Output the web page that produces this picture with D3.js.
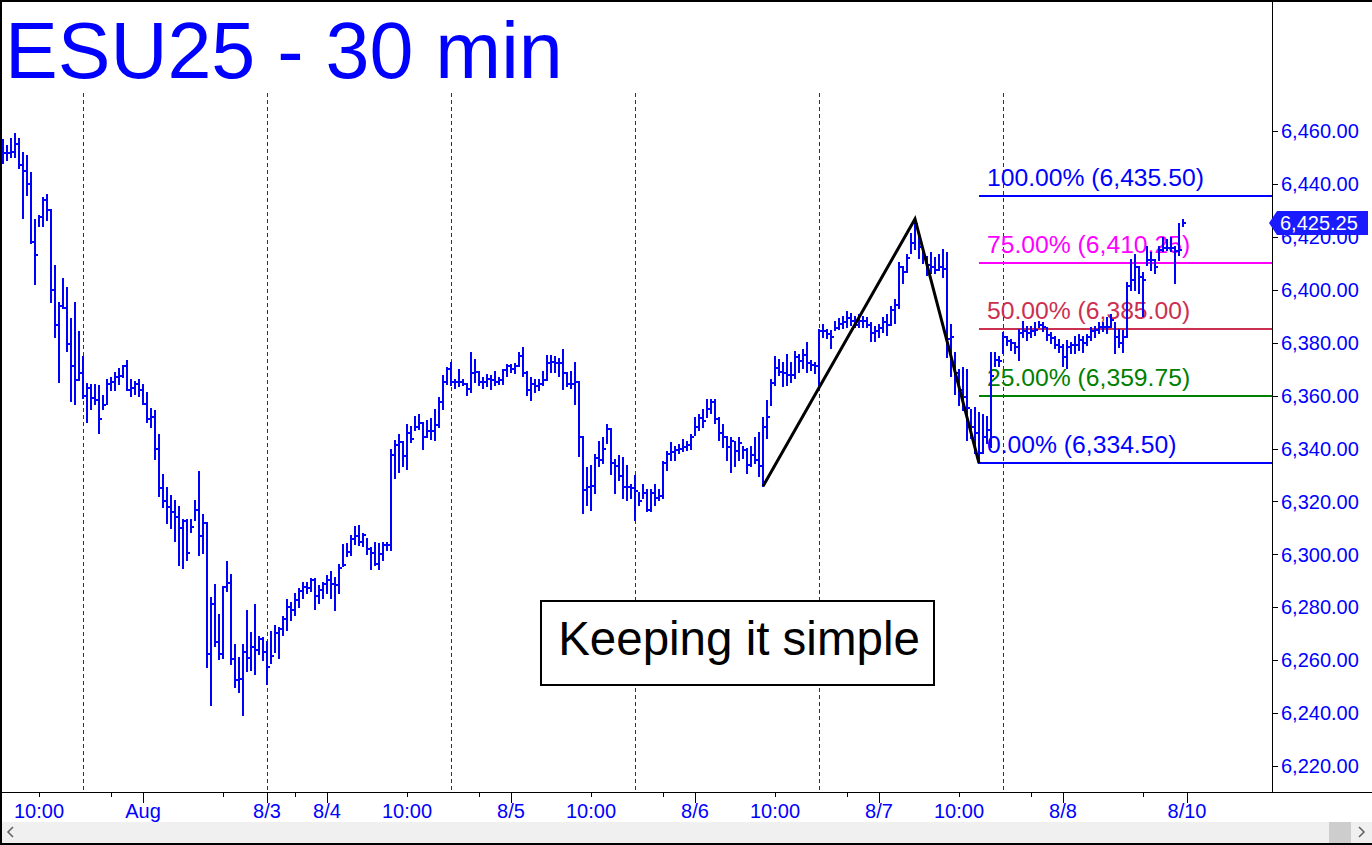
<html>
<head>
<style>
  body { margin: 0; background: #fff; }
  svg text { font-family: "Liberation Sans", Arial, sans-serif; }
  .title { fill: #0000ff; font-size: 79px; }
  .ylab { fill: #0000ff; font-size: 20px; }
  .xlab { fill: #0000ff; font-size: 20px; }
  .fib { font-size: 24.7px; }
  .note { fill: #000; font-size: 47.5px; }
</style>
<script src="https://d3js.org/d3.v7.min.js"></script>
</head>
<body>
<svg width="1372" height="845"></svg>
<script>
// 30 min bars (bar index 0..295)
const highs = [
  6456.5,6454.5,6457,6459,6457,6451.5,6450.5,6444,6426.5,6428,
  6434.5,6436,6430,6409,6395,6404,6400.5,6389,6395,6384,
  6374.5,6364.5,6364,6364,6363.5,6360,6366,6366.5,6368.5,6370,
  6371,6373,6366,6365,6366,6364,6361,6355,6354,6345,
  6330,6325,6322,6320,6318,6313,6313,6313,6320,6331.25,
  6315,6311.75,6283.5,6288.5,6277,6287.75,6297.25,6292.25,6265.75,6261,
  6265.75,6278.5,6270.25,6281,6268.75,6268.25,6267,6270.5,6272.75,6272,
  6276.25,6282.75,6281.75,6285,6286.75,6289.25,6289,6290.5,6290.5,6288,
  6289,6291.75,6293.5,6291,6296,6303.5,6304,6306.75,6310.5,6310.75,
  6307.75,6305.75,6302.25,6304.25,6304,6304.25,6304.25,6339.5,6343,6345,
  6342.5,6349,6348.25,6352,6352.75,6349.75,6350.25,6351,6354.5,6359,
  6367.25,6370.25,6372.25,6366,6369.75,6366,6364.5,6376.25,6373.5,6369,
  6366.5,6367.75,6367.25,6369,6366.5,6369.75,6371.5,6371.5,6372,6376,
  6378,6369,6366.5,6366,6366,6369,6375,6375,6374.75,6373.75,
  6377.25,6368.5,6369,6372.25,6365.25,6344.5,6332.5,6333.25,6337.5,6342.5,
  6344,6349,6347.5,6335.75,6337,6336.25,6333.25,6326.25,6329.5,6323,
  6326.25,6324.25,6324.25,6326.25,6324.25,6335,6338.75,6342,6340.75,6341.25,
  6343.25,6342.5,6345,6351.5,6352.75,6354.5,6358.5,6358.5,6358.5,6351.5,
  6349,6344.5,6344,6342.5,6344,6340.75,6340,6340.75,6344,6345.75,
  6351.5,6358,6366,6374.75,6373.5,6372.25,6375.5,6372.25,6376.5,6375.5,
  6377.25,6379.75,6373,6372.25,6384.75,6386.75,6384.75,6384.25,6388,6389,
  6389.75,6391.75,6391,6389.75,6390.5,6389.75,6389.25,6387.5,6386,6386.75,
  6389.25,6390.5,6393.5,6396,6410,6408.75,6413,6421.25,6426.75,6420,
  6415,6412.5,6413.75,6412,6413,6415,6413.75,6386.75,6376,6369.75,
  6370.25,6369.75,6354.5,6355.25,6353.25,6352.75,6352,6376,6376,6374.75,
  6383.5,6382.25,6381,6379.75,6384.75,6388,6386,6386,6387.25,6388,
  6387.25,6385.5,6383.5,6382.25,6381,6379.25,6380.5,6379.75,6382.25,6383,
  6382.25,6383,6385.5,6386,6387.25,6387.25,6389.25,6390.5,6387.25,6384.75,
  6384.25,6402.5,6411.25,6413.25,6408.75,6406.25,6416.25,6413.75,6411.25,6416.25,
  6419.5,6418.75,6419.5,6416.25,6425,6426.5
];
const lows = [
  6448,6449,6450,6450,6446,6427,6436,6417.5,6402,6424,
  6424,6426.5,6395.5,6382,6365,6393,6377,6358,6357,6366,
  6359,6350,6355,6357,6346,6355,6357,6362,6362,6364.5,
  6367,6362,6360,6360.5,6360,6357,6350,6348,6336,6322,
  6318,6312,6310,6305,6296,6294.75,6298,6308.5,6313,6299.75,
  6300.5,6257.5,6243,6265.25,6260.5,6260.75,6286,6258.5,6250,6248,
  6239.25,6255.75,6256.25,6254.75,6262.5,6260,6251,6258.75,6263,6260.75,
  6269.5,6271.25,6275,6277,6280.25,6283.5,6285.25,6286.25,6279.5,6281.75,
  6283.5,6285.25,6283.5,6279,6285.5,6295.5,6299.5,6299.75,6304,6303.5,
  6303,6300.25,6294.5,6296,6294.5,6298,6301.5,6301.5,6329,6331.25,
  6333.25,6332.25,6342.5,6347,6347.25,6339.75,6344.25,6343.5,6343.25,6348.25,
  6354.75,6364.5,6364,6362.75,6363.5,6364,6360.25,6361.5,6365.25,6364,
  6363,6363.5,6362.5,6364,6364.5,6364.5,6367.25,6368.75,6368.5,6371,
  6367.25,6360.25,6358.25,6361.5,6362,6364,6366,6369,6369,6367.25,
  6362.5,6363.5,6362.75,6357,6337,6315.5,6318.75,6316.75,6323,6333.25,
  6334.5,6342,6330.5,6323,6328,6321.25,6320.5,6321.25,6313,6318.75,
  6321.25,6316.25,6316.25,6318.75,6320.5,6321.25,6332,6335.75,6335.75,6338.25,
  6339,6339.5,6340,6345,6347,6348.25,6352,6353.25,6349.5,6343.25,
  6340.75,6335.75,6331.25,6333.25,6335.75,6336.25,6330.75,6333.25,6334.5,6329.5,
  6325.75,6344,6356.5,6364,6367.75,6363.5,6364,6365.25,6366.5,6369,
  6370.25,6369,6369.75,6368.5,6364,6382.25,6381.75,6378,6384.75,6385,
  6385.5,6386,6386.75,6386,6386,6386,6386,6380.5,6380.5,6382.25,
  6384,6383,6386.75,6387.25,6393,6402.5,6406.75,6413.75,6415.5,6412,
  6410,6405.5,6406.25,6406.25,6407.5,6405,6374.75,6367.25,6360.75,6356.5,
  6354.5,6343.25,6344,6338.25,6334.5,6338.25,6342,6340.75,6371,6371,
  6376,6379.25,6377.25,6376,6373.5,6382.25,6381,6382.25,6383,6386,
  6384.25,6381,6379.75,6378,6376.5,6371,6370.25,6376,6376,6377.25,
  6376.5,6379.25,6381,6382.25,6383.5,6384.25,6383.5,6386,6376,6378.5,
  6376.5,6382.25,6400,6400,6398.75,6390,6409.5,6407.5,6406.25,6411.25,
  6414.5,6415,6414.5,6402.5,6413.25,6424
];
const closes = [
  6451.5,6451.5,6452,6455,6447,6445,6440,6418,6413,6427.5,
  6434,6430,6400,6386.5,6394,6393,6379.5,6371,6366,6368.5,
  6360,6363,6359,6358.5,6351,6356.5,6364.5,6365,6367,6367.5,
  6371,6362,6363,6364.5,6362,6357,6351,6352,6340,6325,
  6320,6318,6316,6314,6310,6312.5,6300.5,6310.5,6316.75,6307,
  6311.75,6262.5,6281.25,6267,6262.5,6287.5,6289,6260.5,6252.5,6252.75,
  6263.25,6260.75,6265,6264,6268,6263.25,6257.25,6261.5,6270.25,6271.75,
  6275.5,6280.25,6279,6282.75,6286,6287.5,6287.25,6290.25,6284.25,6286.5,
  6288.75,6290.25,6288.75,6288.5,6295,6296,6301,6305.75,6306.75,6304.5,
  6307.25,6302,6300.5,6296.5,6300.25,6303.5,6303.5,6337.5,6341.25,6342.5,
  6337,6346,6343.5,6348.25,6349.5,6344.5,6346.5,6346.5,6349,6357.5,
  6365.25,6370,6365.25,6365.25,6365,6364.5,6362.5,6368.5,6368.75,6365.25,
  6365,6366.25,6365.75,6365.25,6366,6369.5,6371,6370,6371.25,6375,
  6368.5,6362,6364.5,6363.5,6364.5,6366,6372.25,6372.75,6372.25,6372.25,
  6368.5,6364.5,6364.5,6365,6344.25,6324.25,6325.5,6326,6336.25,6335.75,
  6340,6347.25,6334.5,6333.25,6329.5,6325.5,6325.5,6325,6323.75,6320,
  6323.25,6316.75,6323,6321.25,6322,6334.5,6338,6338.5,6339.25,6339.75,
  6340.75,6341.5,6344.5,6348.25,6351.5,6350.5,6354.75,6357.75,6351,6345.75,
  6344.25,6340.5,6343,6339,6342,6339.25,6333.75,6337.5,6335.75,6333.25,
  6348,6352,6364.75,6370.25,6369,6368.5,6367.75,6367.75,6374.75,6373,
  6375.5,6372.25,6371.5,6371,6384.25,6384.25,6383.25,6382.25,6385.5,6387,
  6388,6389.25,6388.25,6386.75,6388.25,6388.25,6386.75,6383.5,6384.25,6385.5,
  6388,6386.75,6392.25,6394.25,6408.75,6406.75,6412,6417.5,6425,6416.25,
  6412.5,6409.25,6408.75,6407.5,6408.75,6408,6381.5,6382.25,6368.5,6362,
  6359.5,6355.25,6348.25,6345.75,6338.25,6344.5,6347,6367.25,6373.5,6373,
  6382.25,6380.5,6379.75,6378.5,6383.5,6384.25,6383.5,6384.25,6384.75,6386.75,
  6386,6383,6381.75,6379.25,6378.5,6374.75,6378.5,6379.25,6379.25,6381,
  6379.75,6382.25,6384.25,6384.75,6386,6386,6386,6388.5,6382.25,6379.75,
  6382.25,6401.25,6403.75,6408.75,6405,6403.75,6411.25,6411.25,6408.75,6415,
  6415.75,6415.75,6415.75,6414.5,6415,6425.25
];

const yTickValues = [6220,6240,6260,6280,6300,6320,6340,6360,6380,6400,6420,6440,6460];
const xLabels    = ["10:00","Aug","8/3","8/4","10:00","8/5","10:00","8/6","10:00","8/7","10:00","8/8","8/10"];
const xLabelBars = [9,35,66,81,101,127,147,173,193,219,239,265,296];
const dateLabel  = [false,true,true,true,false,true,false,true,false,true,false,true,true];
const minorTickBars = [27,55,73,119,165,211,257,285];
const sessionBreaks = [20,66,112,158,204,250];

const fibPcts   = ["100.00%","75.00%","50.00%","25.00%","0.00%"];
const fibPrices = [6435.5,6410.25,6385.0,6359.75,6334.5];
const fibColors = ["#0000ff","#ff00ff","#cc3050","#008000","#0000ff"];

const swingBars   = [190,228,244];
const swingPrices = [6325.75,6426.75,6334.5];
const lastPrice = 6425.25;

const width = 1372, height = 845;
const plotRight = 1272, axisY = 792;

const svg = d3.select("svg");
svg.append("rect").attr("width", width).attr("height", height).attr("fill", "#fff");

const x = d3.scaleLinear().domain([0, 295]).range([3, 1183]);
const y = d3.scaleLinear().domain([6220, 6460]).range([766, 131]);

// session separators
svg.append("g").selectAll("line").data(sessionBreaks).enter().append("line")
  .attr("x1", d => x(d) + 0.5).attr("x2", d => x(d) + 0.5)
  .attr("y1", 93).attr("y2", axisY)
  .attr("stroke", "#333").attr("stroke-width", 1).attr("stroke-dasharray", "4,3");

// fib levels
const fibStart = x(swingBars[2]);
const fib = svg.append("g");
fib.selectAll("line").data(fibPrices).enter().append("line")
  .attr("x1", fibStart).attr("x2", plotRight)
  .attr("y1", d => Math.round(y(d))).attr("y2", d => Math.round(y(d)))
  .attr("stroke", (d, i) => fibColors[i]).attr("stroke-width", 2);
fib.selectAll("text").data(fibPrices).enter().append("text")
  .attr("class", "fib")
  .attr("x", fibStart + 8).attr("y", d => y(d) - 10)
  .attr("fill", (d, i) => fibColors[i])
  .text((d, i) => fibPcts[i] + " (" + d3.format(",.2f")(d) + ")");

// OHLC bars (high-low with close tick)
const bars = svg.append("g").attr("stroke", "#0000ff").attr("stroke-width", 2).attr("shape-rendering", "crispEdges");
bars.selectAll("line.hl").data(closes).enter().append("line")
  .attr("class", "hl")
  .attr("x1", (d, i) => x(i)).attr("x2", (d, i) => x(i))
  .attr("y1", (d, i) => y(highs[i]) - 1).attr("y2", (d, i) => y(lows[i]) + 1);
bars.selectAll("line.cl").data(closes).enter().append("line")
  .attr("class", "cl")
  .attr("x1", (d, i) => x(i) - 1).attr("x2", (d, i) => x(i) + 3)
  .attr("y1", d => y(d)).attr("y2", d => y(d));

// swing lines
svg.append("path")
  .datum(swingBars.map((b, i) => [x(b), y(swingPrices[i])]))
  .attr("d", d3.line())
  .attr("fill", "none").attr("stroke", "#000").attr("stroke-width", 3);

// annotation box
svg.append("rect").attr("x", 541).attr("y", 601).attr("width", 393).attr("height", 84)
  .attr("fill", "#fff").attr("stroke", "#000").attr("stroke-width", 2);
svg.append("text").attr("class", "note").attr("x", 739).attr("y", 655)
  .attr("text-anchor", "middle").text("Keeping it simple");

// title
svg.append("text").attr("class", "title").attr("x", 5).attr("y", 78).text("ESU25 - 30 min");

// frame / axes
svg.append("line").attr("x1", plotRight + 0.5).attr("x2", plotRight + 0.5).attr("y1", 0).attr("y2", axisY)
  .attr("stroke", "#000").attr("stroke-width", 1);
svg.append("line").attr("x1", 0).attr("x2", width).attr("y1", axisY + 0.5).attr("y2", axisY + 0.5)
  .attr("stroke", "#000").attr("stroke-width", 1);

const yAxis = svg.append("g");
yAxis.selectAll("line").data(yTickValues).enter().append("line")
  .attr("x1", plotRight).attr("x2", plotRight + 6)
  .attr("y1", d => Math.round(y(d)) + 0.5).attr("y2", d => Math.round(y(d)) + 0.5)
  .attr("stroke", "#000");
yAxis.selectAll("text").data(yTickValues).enter().append("text")
  .attr("class", "ylab").attr("x", plotRight + 9).attr("y", d => y(d)).attr("dy", "0.36em")
  .text(d => d3.format(",.2f")(d));

const xAxis = svg.append("g");
xAxis.selectAll("line.minor").data(minorTickBars).enter().append("line")
  .attr("class", "minor")
  .attr("x1", d => x(d) + 0.5).attr("x2", d => x(d) + 0.5)
  .attr("y1", axisY).attr("y2", axisY + 5).attr("stroke", "#000");
xAxis.selectAll("line.major").data(xLabelBars).enter().append("line")
  .attr("class", "major")
  .attr("x1", d => x(d) + 0.5).attr("x2", d => x(d) + 0.5)
  .attr("y1", axisY).attr("y2", (d, i) => axisY + (dateLabel[i] ? 11 : 5)).attr("stroke", "#000");
xAxis.selectAll("text").data(xLabels).enter().append("text")
  .attr("class", "xlab").attr("text-anchor", "middle")
  .attr("x", (d, i) => x(xLabelBars[i])).attr("y", 818)
  .text(d => d);

// last price tag
const ly = y(lastPrice);
svg.append("path")
  .attr("d", "M" + (plotRight - 3) + "," + ly + "L" + (plotRight + 5) + "," + (ly - 12) + "H1368V" + (ly + 12) + "H" + (plotRight + 5) + "Z")
  .attr("fill", "#1a1aff");
svg.append("text").attr("x", plotRight + 8).attr("y", ly).attr("dy", "0.36em")
  .attr("fill", "#fff").style("font-size", "20px").text(d3.format(",.2f")(lastPrice));

// scrollbar
svg.append("rect").attr("x", 0).attr("y", 822).attr("width", width).attr("height", 21).attr("fill", "#f0f0f0");
svg.append("rect").attr("x", 1329).attr("y", 822).attr("width", 22).attr("height", 21).attr("fill", "#cdcdcd");
svg.append("path").attr("d", "M13,827L8,832L13,837").attr("fill", "none").attr("stroke", "#606060").attr("stroke-width", 1.5);
svg.append("path").attr("d", "M1359,827L1364,832L1359,837").attr("fill", "none").attr("stroke", "#606060").attr("stroke-width", 1.5);

// window border
svg.append("rect").attr("x", 0).attr("y", 0).attr("width", width).attr("height", 2).attr("fill", "#000");
svg.append("rect").attr("x", 0).attr("y", 0).attr("width", 2).attr("height", height).attr("fill", "#000");
svg.append("rect").attr("x", 0).attr("y", 843).attr("width", width).attr("height", 2).attr("fill", "#000");
</script>
</body>
</html>
